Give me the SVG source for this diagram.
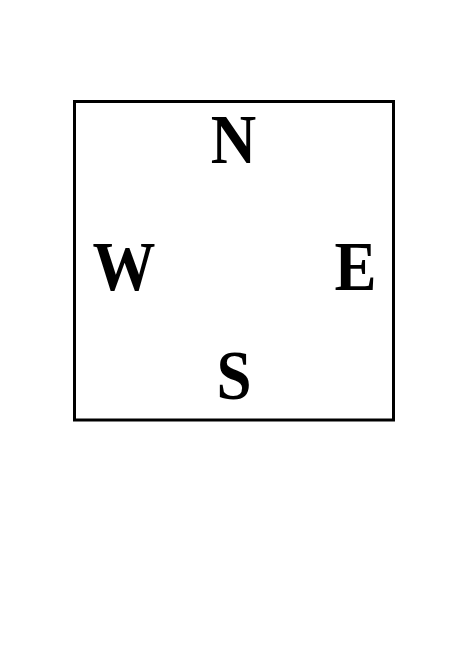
<svg xmlns="http://www.w3.org/2000/svg" width="468" height="666" viewBox="0 0 468 666">
<style>
.lbl{font-family:"Liberation Serif","Times New Roman",serif;font-weight:bold;font-size:63px;fill:#000;text-anchor:middle}
</style>
<rect width="468" height="666" fill="#fff"/>
<g id="frame"><rect x="74.5" y="101.5" width="319" height="318.5" fill="none" stroke="#000" stroke-width="3"/></g>
<g id="connectors"></g>
<g id="north"><text class="lbl" transform="translate(233.5,163) scale(1,1.1)">N</text></g>
<g id="west"><text class="lbl" transform="translate(124,290) scale(1,1.1)">W</text></g>
<g id="east"><text class="lbl" transform="translate(355.5,290) scale(1,1.1)">E</text></g>
<g id="south"><text class="lbl" transform="translate(234,398.5) scale(1,1.1)">S</text></g>
</svg>
